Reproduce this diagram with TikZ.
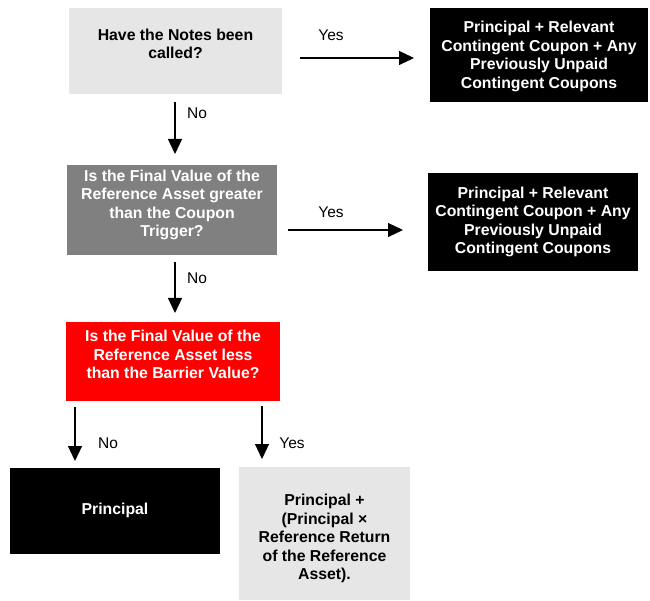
\documentclass[tikz,border=0pt]{standalone}
\usepackage{fontspec}
\setmainfont{Liberation Sans}
\usetikzlibrary{arrows.meta}
\definecolor{lightbox}{HTML}{E6E6E6}
\definecolor{darkbox}{HTML}{808080}
\definecolor{redbox}{HTML}{FF0000}
\begin{document}
\begin{tikzpicture}[x=1pt,y=-1pt,
  box/.style={rectangle,inner sep=0pt,draw=none},
  btext/.style={align=center,font=\fontsize{15.8}{18.5}\selectfont\bfseries,inner sep=0pt},
  lbl/.style={font=\fontsize{15.5}{18}\selectfont,inner sep=0pt},
  arr/.style={line width=1.2pt,-{Triangle[length=15pt,width=14pt]}}]
\useasboundingbox[fill=white] (0,0) rectangle (650,601);
% boxes
\node[box,fill=lightbox,minimum width=213pt,minimum height=86pt] (q1) at (175.5,51) {};
\node[btext,text=black] (q1t) at (175.5,44) {Have the Notes been\\called?};
\node[box,fill=black,minimum width=218pt,minimum height=94pt] (r1) at (539,55) {};
\node[btext,text=white] (r1t) at (539,56.5) {Principal + Relevant\\Contingent Coupon + Any\\Previously Unpaid\\Contingent Coupons};
\node[box,fill=darkbox,minimum width=210pt,minimum height=90pt] (q2) at (172,210) {};
\node[btext,text=white] (q2t) at (172,205) {Is the Final Value of the\\Reference Asset greater\\than the Coupon\\Trigger?};
\node[box,fill=black,minimum width=210pt,minimum height=98pt] (r2) at (533,222) {};
\node[btext,text=white] (r2t) at (533,222) {Principal + Relevant\\Contingent Coupon + Any\\Previously Unpaid\\Contingent Coupons};
\node[box,fill=redbox,minimum width=214pt,minimum height=79pt] (q3) at (173,361.5) {};
\node[btext,text=white] (q3t) at (173,354.5) {Is the Final Value of the\\Reference Asset less\\than the Barrier Value?};
\node[box,fill=black,minimum width=210pt,minimum height=86pt] (p1) at (115,511) {};
\node[btext,text=white] (p1t) at (115,510) {Principal};
\node[box,fill=lightbox,minimum width=171pt,minimum height=133pt] (p2) at (324.5,533.5) {};
\node[btext,text=black] (p2t) at (324.5,538.5) {Principal +\\(Principal ×\\Reference Return\\of the Reference\\Asset).};
% connectors
\coordinate (a1s) at (300,58);
\coordinate (a1e) at (414,58);
\draw[arr] (a1s) -- (a1e);
\node[lbl] (y1) at (331,35) {Yes};
\coordinate (a2s) at (288,230);
\coordinate (a2e) at (403,230);
\draw[arr] (a2s) -- (a2e);
\node[lbl] (y2) at (331,212) {Yes};
\coordinate (n1s) at (175,102);
\coordinate (n1e) at (175,154);
\draw[arr] (n1s) -- (n1e);
\node[lbl] (no1) at (197,113) {No};
\coordinate (n2s) at (175,262);
\coordinate (n2e) at (175,313);
\draw[arr] (n2s) -- (n2e);
\node[lbl] (no2) at (197,278) {No};
\coordinate (n3s) at (75,407);
\coordinate (n3e) at (75,461);
\draw[arr] (n3s) -- (n3e);
\node[lbl] (no3) at (108,443) {No};
\coordinate (y3s) at (262,406);
\coordinate (y3e) at (262,459);
\draw[arr] (y3s) -- (y3e);
\node[lbl] (y3) at (292,443) {Yes};
\end{tikzpicture}
\end{document}
